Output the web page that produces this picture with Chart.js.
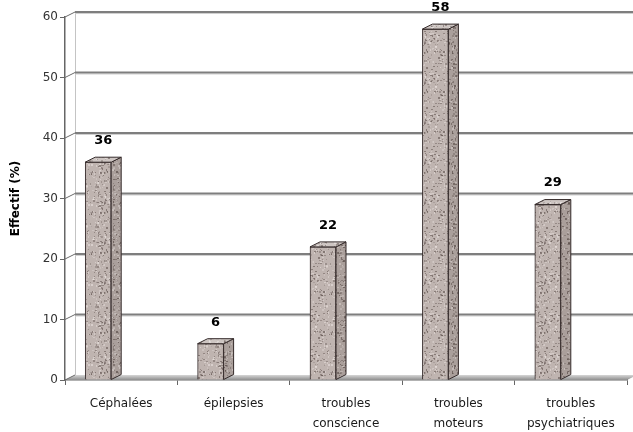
<!DOCTYPE html>
<html>
<head>
<meta charset="utf-8">
<script src="https://cdn.jsdelivr.net/npm/chart.js@4/dist/chart.umd.min.js"></script>
<style>
  html, body { margin: 0; padding: 0; background: #fff; }
  #wrap { width: 633px; height: 432px; }
</style>
</head>
<body>
<div id="wrap"><canvas id="c"></canvas></div>
<script>
// Symptom categories and counts
const categories = [['Céphalées'], ['épilepsies'], ['troubles', 'conscience'], ['troubles', 'moteurs'], ['troubles', 'psychiatriques']];
const effectifs = [36, 6, 22, 58, 29];
const yTickValues = [0, 10, 20, 30, 40, 50, 60];
const yTitle = 'Effectif (%)';

// Pseudo-3D look: depth offset of the back planes and the bars' position inside each category
const DEPTH_X = 10;
const DEPTH_Y = -5;
const BAR_SHIFT = -23;
const FONT = "'DejaVu Sans', sans-serif";

// Speckled stone texture for the column faces (deterministic generator)
function stonePattern(base, dark, light, seed) {
  const c = document.createElement('canvas');
  c.width = 40; c.height = 40;
  const g = c.getContext('2d');
  g.fillStyle = base;
  g.fillRect(0, 0, 40, 40);
  let s = seed;
  const next = () => { s = (s * 1103515245 + 12345) & 0x7fffffff; return s / 0x7fffffff; };
  for (let i = 0; i < 240; i++) {
    const px = Math.floor(next() * 40), py = Math.floor(next() * 40);
    const tone = next();
    g.globalAlpha = 0.25 + next() * 0.45;
    g.fillStyle = tone < 0.55 ? dark : light;
    g.fillRect(px, py, 1 + Math.floor(next() * 2), 1 + Math.floor(next() * 2));
  }
  return g.createPattern(c, 'repeat');
}
const frontFill = stonePattern('#bfb4b0', '#6a5d59', '#e4dcd9', 1234);
const sideFill = stonePattern('#aa9f9b', '#5a4d49', '#d2cac7', 4321);
const topFill = stonePattern('#cdc5c2', '#776b67', '#eee9e7', 777);
const EDGE = '#352b2b';

const scene3d = {
  id: 'scene3d',
  beforeDatasetsDraw(chart) {
    const { ctx, chartArea: a, scales: { y } } = chart;
    const base = y.getPixelForValue(0);
    ctx.save();
    // floor
    const fg = ctx.createLinearGradient(0, base + DEPTH_Y, 0, base);
    fg.addColorStop(0, '#d6d6d6');
    fg.addColorStop(1, '#8e8e8e');
    ctx.beginPath();
    ctx.moveTo(a.left, base);
    ctx.lineTo(a.right, base);
    ctx.lineTo(a.right + DEPTH_X, base + DEPTH_Y);
    ctx.lineTo(a.left + DEPTH_X, base + DEPTH_Y);
    ctx.closePath();
    ctx.fillStyle = fg;
    ctx.fill();
    // left wall back edge
    const topPx = y.getPixelForValue(y.max);
    ctx.strokeStyle = '#c4c4c4';
    ctx.lineWidth = 1;
    ctx.beginPath();
    ctx.moveTo(a.left + DEPTH_X + 0.5, topPx + DEPTH_Y);
    ctx.lineTo(a.left + DEPTH_X + 0.5, base + DEPTH_Y);
    ctx.stroke();
    // back-wall gridlines and their links on the side wall
    y.ticks.forEach(t => {
      const py = y.getPixelForValue(t.value);
      if (t.value !== 0) {
        ctx.strokeStyle = '#d0d0d0';
        ctx.lineWidth = 1;
        ctx.beginPath();
        ctx.moveTo(a.left + DEPTH_X, py + DEPTH_Y + 1.5);
        ctx.lineTo(chart.width, py + DEPTH_Y + 1.5);
        ctx.stroke();
        ctx.strokeStyle = '#7e7e7e';
        ctx.lineWidth = 1.8;
        ctx.beginPath();
        ctx.moveTo(a.left + DEPTH_X, py + DEPTH_Y);
        ctx.lineTo(chart.width, py + DEPTH_Y);
        ctx.stroke();
      }
      ctx.strokeStyle = '#6a6a6a';
      ctx.lineWidth = 1;
      ctx.beginPath();
      ctx.moveTo(a.left, py);
      ctx.lineTo(a.left + DEPTH_X, py + DEPTH_Y);
      ctx.stroke();
    });
    ctx.restore();
    // columns sit left of the category centre
    ctx.save();
    ctx.translate(BAR_SHIFT, 0);
  },
  afterDatasetsDraw(chart) {
    const ctx = chart.ctx;
    const meta = chart.getDatasetMeta(0);
    ctx.lineWidth = 1;
    ctx.strokeStyle = EDGE;
    ctx.lineJoin = 'round';
    meta.data.forEach((bar, i) => {
      const l = bar.x - bar.width / 2, r = bar.x + bar.width / 2;
      const t = bar.y, b = bar.base;
      // side face
      ctx.beginPath();
      ctx.moveTo(r, t);
      ctx.lineTo(r + DEPTH_X, t + DEPTH_Y);
      ctx.lineTo(r + DEPTH_X, b + DEPTH_Y);
      ctx.lineTo(r, b);
      ctx.closePath();
      ctx.fillStyle = sideFill;
      ctx.fill();
      ctx.stroke();
      // top face
      ctx.beginPath();
      ctx.moveTo(l, t);
      ctx.lineTo(l + DEPTH_X, t + DEPTH_Y);
      ctx.lineTo(r + DEPTH_X, t + DEPTH_Y);
      ctx.lineTo(r, t);
      ctx.closePath();
      ctx.fillStyle = topFill;
      ctx.fill();
      ctx.stroke();
      // value label
      ctx.fillStyle = '#000';
      ctx.font = "bold 13px " + FONT;
      ctx.textAlign = 'center';
      ctx.textBaseline = 'middle';
      ctx.fillText(String(effectifs[i]), bar.x + DEPTH_X / 2, t + DEPTH_Y - 16.5);
    });
    ctx.restore();
  }
};

new Chart(document.getElementById('c'), {
  type: 'bar',
  data: {
    labels: categories,
    datasets: [{
      data: effectifs,
      backgroundColor: frontFill,
      borderColor: EDGE,
      borderWidth: 1,
      barThickness: 26
    }]
  },
  options: {
    responsive: true,
    maintainAspectRatio: false,
    animation: false,
    events: [],
    layout: { padding: { top: 17, right: 6, left: 0, bottom: 0 } },
    plugins: { legend: { display: false }, tooltip: { enabled: false } },
    scales: {
      x: {
        grid: { display: true, drawOnChartArea: false, drawTicks: true, tickLength: 5, color: '#666', offset: true },
        border: { display: true, color: '#666', width: 1.5 },
        ticks: { color: '#1a1a1a', font: { family: FONT, size: 12, lineHeight: 1.65 }, padding: 9, maxRotation: 0, autoSkip: false },
        afterFit(scale) { scale.height = 52; }
      },
      y: {
        min: yTickValues[0],
        max: yTickValues[yTickValues.length - 1],
        afterBuildTicks(scale) { scale.ticks = yTickValues.map(v => ({ value: v })); },
        grid: { display: true, drawOnChartArea: false, drawTicks: true, tickLength: 5, color: '#666' },
        border: { display: true, color: '#666', width: 1.5 },
        ticks: { color: '#333', font: { family: FONT, size: 12 }, padding: 2 },
        title: { display: true, text: yTitle, color: '#000', font: { family: FONT, size: 12, weight: 'bold' }, padding: { top: 9, bottom: 0 } },
        afterFit(scale) { scale.width = 65; }
      }
    }
  },
  plugins: [scene3d]
});
</script>
</body>
</html>
